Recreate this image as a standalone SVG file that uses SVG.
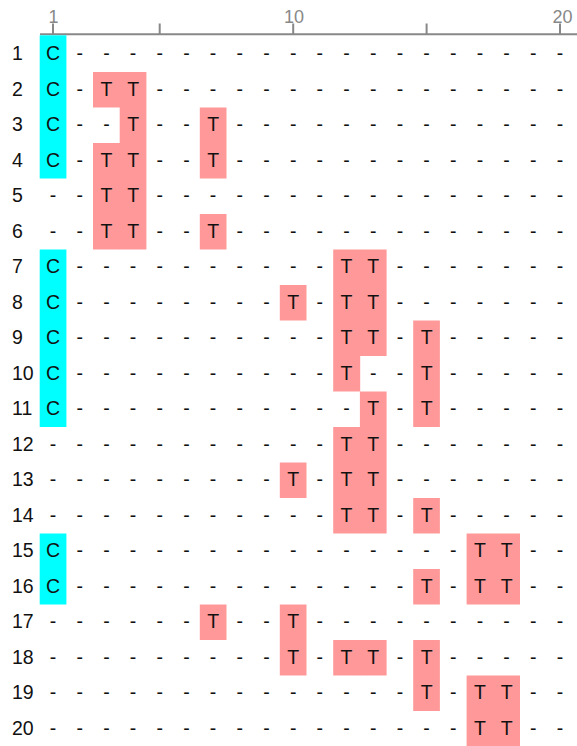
<svg xmlns="http://www.w3.org/2000/svg" width="577" height="746" viewBox="0 0 577 746">
<style>
text{font-family:"Liberation Sans",Arial,sans-serif;font-size:19.5px;fill:#111;text-anchor:middle}
text.lab{text-anchor:start}
text.ax{fill:#888;font-size:18px}
.c{fill:#00FFFF}
.t{fill:#FF9999}
.axis{stroke:#888;stroke-width:2;fill:none}
</style>
<rect width="577" height="746" fill="#fff"/>
<g id="axis">
<line class="axis" x1="40" y1="34.3" x2="577" y2="34.3"/>
<path class="axis" d="M53 23.5V34.3M159.7 23.5V34.3M293.2 23.5V34.3M426.6 23.5V34.3M560 23.5V34.3"/>
<text class="ax" x="53.5" y="23">1</text>
<text class="ax" x="294" y="23">10</text>
<text class="ax" x="562.5" y="23">20</text>
</g>
<g id="highlights">
<rect class="c" x="39.7" y="35.3" width="26.7" height="143.2"/>
<rect class="c" x="39.7" y="249.5" width="26.7" height="177.5"/>
<rect class="c" x="39.7" y="533.5" width="26.7" height="71"/>
<rect class="t" x="93" y="72" width="27" height="35.5"/>
<rect class="t" x="93" y="143" width="27" height="106.5"/>
<rect class="t" x="119.7" y="72" width="26.7" height="177.5"/>
<rect class="t" x="199.8" y="107.5" width="26.7" height="71"/>
<rect class="t" x="199.8" y="214" width="26.7" height="35.5"/>
<rect class="t" x="199.8" y="604.5" width="26.7" height="35.5"/>
<rect class="t" x="279.8" y="285" width="26.7" height="35.5"/>
<rect class="t" x="279.8" y="462.5" width="26.7" height="35.5"/>
<rect class="t" x="279.8" y="604.5" width="26.7" height="71"/>
<rect class="t" x="333.2" y="249.5" width="27" height="142"/>
<rect class="t" x="333.2" y="427" width="27" height="106.5"/>
<rect class="t" x="333.2" y="640" width="27" height="35.5"/>
<rect class="t" x="359.9" y="249.5" width="26.7" height="106.5"/>
<rect class="t" x="359.9" y="391.5" width="26.7" height="142"/>
<rect class="t" x="359.9" y="640" width="26.7" height="35.5"/>
<rect class="t" x="413.2" y="320.5" width="26.7" height="106.5"/>
<rect class="t" x="413.2" y="498" width="26.7" height="35.5"/>
<rect class="t" x="413.2" y="569" width="26.7" height="35.5"/>
<rect class="t" x="413.2" y="640" width="26.7" height="71"/>
<rect class="t" x="466.6" y="533.5" width="53.4" height="71"/>
<rect class="t" x="466.6" y="675.5" width="53.4" height="71"/>
</g>
<g id="rows">
<g id="row1" transform="translate(0,60.25)"><text class="lab" x="12">1</text><text x="53">C</text><text x="79.7">-</text><text x="106.4">-</text><text x="133.1">-</text><text x="159.7">-</text><text x="186.4">-</text><text x="213.1">-</text><text x="239.8">-</text><text x="266.5">-</text><text x="293.2">-</text><text x="319.8">-</text><text x="346.5">-</text><text x="373.2">-</text><text x="399.9">-</text><text x="426.6">-</text><text x="453.3">-</text><text x="479.9">-</text><text x="506.6">-</text><text x="533.3">-</text><text x="560">-</text></g>
<g id="row2" transform="translate(0,95.75)"><text class="lab" x="12">2</text><text x="53">C</text><text x="79.7">-</text><text x="106.4">T</text><text x="133.1">T</text><text x="159.7">-</text><text x="186.4">-</text><text x="213.1">-</text><text x="239.8">-</text><text x="266.5">-</text><text x="293.2">-</text><text x="319.8">-</text><text x="346.5">-</text><text x="373.2">-</text><text x="399.9">-</text><text x="426.6">-</text><text x="453.3">-</text><text x="479.9">-</text><text x="506.6">-</text><text x="533.3">-</text><text x="560">-</text></g>
<g id="row3" transform="translate(0,131.25)"><text class="lab" x="12">3</text><text x="53">C</text><text x="79.7">-</text><text x="106.4">-</text><text x="133.1">T</text><text x="159.7">-</text><text x="186.4">-</text><text x="213.1">T</text><text x="239.8">-</text><text x="266.5">-</text><text x="293.2">-</text><text x="319.8">-</text><text x="346.5">-</text><text x="373.2">-</text><text x="399.9">-</text><text x="426.6">-</text><text x="453.3">-</text><text x="479.9">-</text><text x="506.6">-</text><text x="533.3">-</text><text x="560">-</text></g>
<g id="row4" transform="translate(0,166.75)"><text class="lab" x="12">4</text><text x="53">C</text><text x="79.7">-</text><text x="106.4">T</text><text x="133.1">T</text><text x="159.7">-</text><text x="186.4">-</text><text x="213.1">T</text><text x="239.8">-</text><text x="266.5">-</text><text x="293.2">-</text><text x="319.8">-</text><text x="346.5">-</text><text x="373.2">-</text><text x="399.9">-</text><text x="426.6">-</text><text x="453.3">-</text><text x="479.9">-</text><text x="506.6">-</text><text x="533.3">-</text><text x="560">-</text></g>
<g id="row5" transform="translate(0,202.25)"><text class="lab" x="12">5</text><text x="53">-</text><text x="79.7">-</text><text x="106.4">T</text><text x="133.1">T</text><text x="159.7">-</text><text x="186.4">-</text><text x="213.1">-</text><text x="239.8">-</text><text x="266.5">-</text><text x="293.2">-</text><text x="319.8">-</text><text x="346.5">-</text><text x="373.2">-</text><text x="399.9">-</text><text x="426.6">-</text><text x="453.3">-</text><text x="479.9">-</text><text x="506.6">-</text><text x="533.3">-</text><text x="560">-</text></g>
<g id="row6" transform="translate(0,237.75)"><text class="lab" x="12">6</text><text x="53">-</text><text x="79.7">-</text><text x="106.4">T</text><text x="133.1">T</text><text x="159.7">-</text><text x="186.4">-</text><text x="213.1">T</text><text x="239.8">-</text><text x="266.5">-</text><text x="293.2">-</text><text x="319.8">-</text><text x="346.5">-</text><text x="373.2">-</text><text x="399.9">-</text><text x="426.6">-</text><text x="453.3">-</text><text x="479.9">-</text><text x="506.6">-</text><text x="533.3">-</text><text x="560">-</text></g>
<g id="row7" transform="translate(0,273.25)"><text class="lab" x="12">7</text><text x="53">C</text><text x="79.7">-</text><text x="106.4">-</text><text x="133.1">-</text><text x="159.7">-</text><text x="186.4">-</text><text x="213.1">-</text><text x="239.8">-</text><text x="266.5">-</text><text x="293.2">-</text><text x="319.8">-</text><text x="346.5">T</text><text x="373.2">T</text><text x="399.9">-</text><text x="426.6">-</text><text x="453.3">-</text><text x="479.9">-</text><text x="506.6">-</text><text x="533.3">-</text><text x="560">-</text></g>
<g id="row8" transform="translate(0,308.75)"><text class="lab" x="12">8</text><text x="53">C</text><text x="79.7">-</text><text x="106.4">-</text><text x="133.1">-</text><text x="159.7">-</text><text x="186.4">-</text><text x="213.1">-</text><text x="239.8">-</text><text x="266.5">-</text><text x="293.2">T</text><text x="319.8">-</text><text x="346.5">T</text><text x="373.2">T</text><text x="399.9">-</text><text x="426.6">-</text><text x="453.3">-</text><text x="479.9">-</text><text x="506.6">-</text><text x="533.3">-</text><text x="560">-</text></g>
<g id="row9" transform="translate(0,344.25)"><text class="lab" x="12">9</text><text x="53">C</text><text x="79.7">-</text><text x="106.4">-</text><text x="133.1">-</text><text x="159.7">-</text><text x="186.4">-</text><text x="213.1">-</text><text x="239.8">-</text><text x="266.5">-</text><text x="293.2">-</text><text x="319.8">-</text><text x="346.5">T</text><text x="373.2">T</text><text x="399.9">-</text><text x="426.6">T</text><text x="453.3">-</text><text x="479.9">-</text><text x="506.6">-</text><text x="533.3">-</text><text x="560">-</text></g>
<g id="row10" transform="translate(0,379.75)"><text class="lab" x="12">10</text><text x="53">C</text><text x="79.7">-</text><text x="106.4">-</text><text x="133.1">-</text><text x="159.7">-</text><text x="186.4">-</text><text x="213.1">-</text><text x="239.8">-</text><text x="266.5">-</text><text x="293.2">-</text><text x="319.8">-</text><text x="346.5">T</text><text x="373.2">-</text><text x="399.9">-</text><text x="426.6">T</text><text x="453.3">-</text><text x="479.9">-</text><text x="506.6">-</text><text x="533.3">-</text><text x="560">-</text></g>
<g id="row11" transform="translate(0,415.25)"><text class="lab" x="12">11</text><text x="53">C</text><text x="79.7">-</text><text x="106.4">-</text><text x="133.1">-</text><text x="159.7">-</text><text x="186.4">-</text><text x="213.1">-</text><text x="239.8">-</text><text x="266.5">-</text><text x="293.2">-</text><text x="319.8">-</text><text x="346.5">-</text><text x="373.2">T</text><text x="399.9">-</text><text x="426.6">T</text><text x="453.3">-</text><text x="479.9">-</text><text x="506.6">-</text><text x="533.3">-</text><text x="560">-</text></g>
<g id="row12" transform="translate(0,450.75)"><text class="lab" x="12">12</text><text x="53">-</text><text x="79.7">-</text><text x="106.4">-</text><text x="133.1">-</text><text x="159.7">-</text><text x="186.4">-</text><text x="213.1">-</text><text x="239.8">-</text><text x="266.5">-</text><text x="293.2">-</text><text x="319.8">-</text><text x="346.5">T</text><text x="373.2">T</text><text x="399.9">-</text><text x="426.6">-</text><text x="453.3">-</text><text x="479.9">-</text><text x="506.6">-</text><text x="533.3">-</text><text x="560">-</text></g>
<g id="row13" transform="translate(0,486.25)"><text class="lab" x="12">13</text><text x="53">-</text><text x="79.7">-</text><text x="106.4">-</text><text x="133.1">-</text><text x="159.7">-</text><text x="186.4">-</text><text x="213.1">-</text><text x="239.8">-</text><text x="266.5">-</text><text x="293.2">T</text><text x="319.8">-</text><text x="346.5">T</text><text x="373.2">T</text><text x="399.9">-</text><text x="426.6">-</text><text x="453.3">-</text><text x="479.9">-</text><text x="506.6">-</text><text x="533.3">-</text><text x="560">-</text></g>
<g id="row14" transform="translate(0,521.75)"><text class="lab" x="12">14</text><text x="53">-</text><text x="79.7">-</text><text x="106.4">-</text><text x="133.1">-</text><text x="159.7">-</text><text x="186.4">-</text><text x="213.1">-</text><text x="239.8">-</text><text x="266.5">-</text><text x="293.2">-</text><text x="319.8">-</text><text x="346.5">T</text><text x="373.2">T</text><text x="399.9">-</text><text x="426.6">T</text><text x="453.3">-</text><text x="479.9">-</text><text x="506.6">-</text><text x="533.3">-</text><text x="560">-</text></g>
<g id="row15" transform="translate(0,557.25)"><text class="lab" x="12">15</text><text x="53">C</text><text x="79.7">-</text><text x="106.4">-</text><text x="133.1">-</text><text x="159.7">-</text><text x="186.4">-</text><text x="213.1">-</text><text x="239.8">-</text><text x="266.5">-</text><text x="293.2">-</text><text x="319.8">-</text><text x="346.5">-</text><text x="373.2">-</text><text x="399.9">-</text><text x="426.6">-</text><text x="453.3">-</text><text x="479.9">T</text><text x="506.6">T</text><text x="533.3">-</text><text x="560">-</text></g>
<g id="row16" transform="translate(0,592.75)"><text class="lab" x="12">16</text><text x="53">C</text><text x="79.7">-</text><text x="106.4">-</text><text x="133.1">-</text><text x="159.7">-</text><text x="186.4">-</text><text x="213.1">-</text><text x="239.8">-</text><text x="266.5">-</text><text x="293.2">-</text><text x="319.8">-</text><text x="346.5">-</text><text x="373.2">-</text><text x="399.9">-</text><text x="426.6">T</text><text x="453.3">-</text><text x="479.9">T</text><text x="506.6">T</text><text x="533.3">-</text><text x="560">-</text></g>
<g id="row17" transform="translate(0,628.25)"><text class="lab" x="12">17</text><text x="53">-</text><text x="79.7">-</text><text x="106.4">-</text><text x="133.1">-</text><text x="159.7">-</text><text x="186.4">-</text><text x="213.1">T</text><text x="239.8">-</text><text x="266.5">-</text><text x="293.2">T</text><text x="319.8">-</text><text x="346.5">-</text><text x="373.2">-</text><text x="399.9">-</text><text x="426.6">-</text><text x="453.3">-</text><text x="479.9">-</text><text x="506.6">-</text><text x="533.3">-</text><text x="560">-</text></g>
<g id="row18" transform="translate(0,663.75)"><text class="lab" x="12">18</text><text x="53">-</text><text x="79.7">-</text><text x="106.4">-</text><text x="133.1">-</text><text x="159.7">-</text><text x="186.4">-</text><text x="213.1">-</text><text x="239.8">-</text><text x="266.5">-</text><text x="293.2">T</text><text x="319.8">-</text><text x="346.5">T</text><text x="373.2">T</text><text x="399.9">-</text><text x="426.6">T</text><text x="453.3">-</text><text x="479.9">-</text><text x="506.6">-</text><text x="533.3">-</text><text x="560">-</text></g>
<g id="row19" transform="translate(0,699.25)"><text class="lab" x="12">19</text><text x="53">-</text><text x="79.7">-</text><text x="106.4">-</text><text x="133.1">-</text><text x="159.7">-</text><text x="186.4">-</text><text x="213.1">-</text><text x="239.8">-</text><text x="266.5">-</text><text x="293.2">-</text><text x="319.8">-</text><text x="346.5">-</text><text x="373.2">-</text><text x="399.9">-</text><text x="426.6">T</text><text x="453.3">-</text><text x="479.9">T</text><text x="506.6">T</text><text x="533.3">-</text><text x="560">-</text></g>
<g id="row20" transform="translate(0,734.75)"><text class="lab" x="12">20</text><text x="53">-</text><text x="79.7">-</text><text x="106.4">-</text><text x="133.1">-</text><text x="159.7">-</text><text x="186.4">-</text><text x="213.1">-</text><text x="239.8">-</text><text x="266.5">-</text><text x="293.2">-</text><text x="319.8">-</text><text x="346.5">-</text><text x="373.2">-</text><text x="399.9">-</text><text x="426.6">-</text><text x="453.3">-</text><text x="479.9">T</text><text x="506.6">T</text><text x="533.3">-</text><text x="560">-</text></g>
</g>
</svg>
